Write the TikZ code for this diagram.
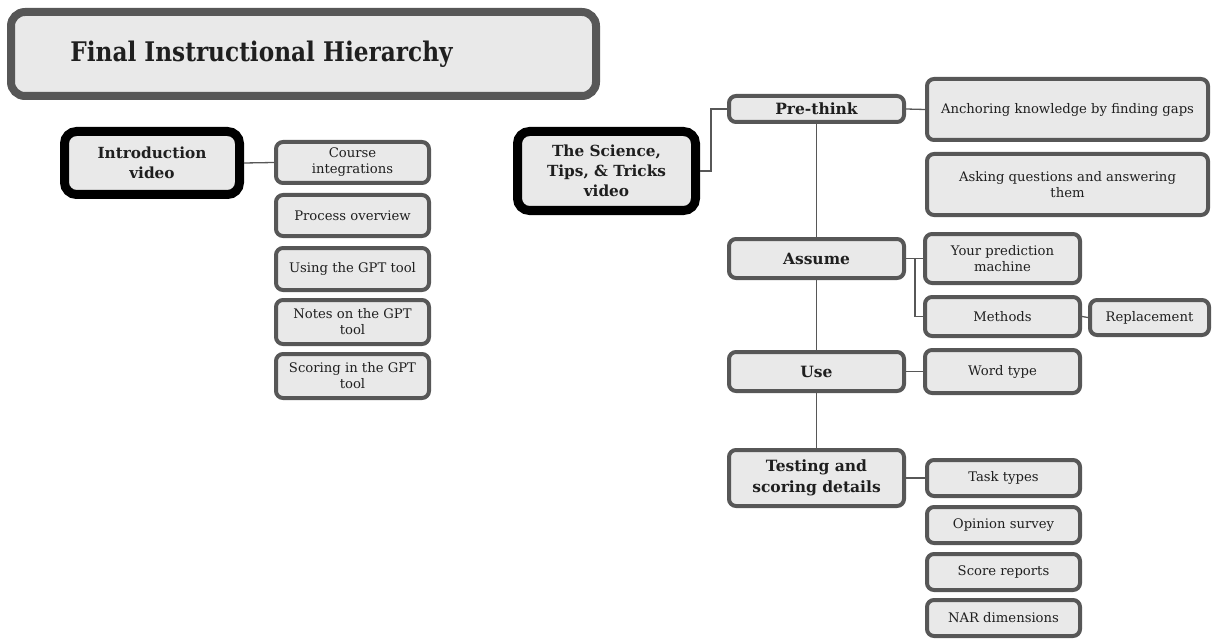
\documentclass[tikz,border=0pt]{standalone}
\usepackage{fontspec}
\setmainfont{DejaVu Serif}
\newfontfamily\titlefont{DejaVu Serif}[FakeStretch=0.86]
\definecolor{boxfill}{HTML}{E9E9E9}
\definecolor{boxline}{HTML}{575757}

\begin{document}
\begin{tikzpicture}[x=1pt,y=-1pt,
  box/.style={draw=boxline,fill=boxfill,line width=4pt,rounded corners=7pt,
    align=center,inner sep=0pt,text=black!88,font=\fontsize{13.2}{16}\selectfont},
  topic/.style={box,font=\bfseries\fontsize{15.5}{21}\selectfont},
  video/.style={box,draw=black,line width=9pt,rounded corners=12pt,
    font=\bfseries\fontsize{15.3}{20}\selectfont},
  link/.style={draw=boxline,line width=1.3pt}]

\useasboundingbox (0,0) rectangle (1212,639);

% Title
\node[box,line width=8pt,rounded corners=14pt,minimum width=585pt,minimum height=84pt] (title) at (303.5,54) {};
\node[text=black!88,font=\titlefont\bfseries\fontsize{27}{30}\selectfont] (titletext) at (261.5,54) {Final Instructional Hierarchy};

% Introduction branch
\node[video,minimum width=175pt,minimum height=63pt] (intro) at (152,163) {Introduction\\video};
\node[box,minimum width=153pt,minimum height=41pt] (course) at (352.5,162.5) {Course\\integrations};
\node[box,minimum width=153pt,minimum height=41pt] (process) at (352.5,215.5) {Process overview};
\node[box,minimum width=153pt,minimum height=42pt] (using) at (352.5,269) {Using the GPT tool};
\node[box,minimum width=153pt,minimum height=44pt] (notes) at (352.5,322) {Notes on the GPT\\tool};
\node[box,minimum width=153pt,minimum height=44pt] (scoring) at (352.5,376) {Scoring in the GPT\\tool};

\draw[link] (intro.east) -- (course.west);

% Science branch
\node[video,minimum width=178pt,minimum height=79pt] (science) at (606.5,171) {The Science,\\Tips, \& Tricks\\video};

\node[topic,minimum width=175pt,minimum height=26pt] (prethink) at (816.5,109) {Pre-think};
\node[topic,minimum width=175pt,minimum height=39pt] (assume) at (816.5,258.5) {Assume};
\node[topic,minimum width=175pt,minimum height=39pt] (use) at (816.5,371.5) {Use};
\node[topic,minimum width=175pt,minimum height=56pt] (testing) at (816.5,478) {Testing and\\scoring details};

\node[box,minimum width=281pt,minimum height=61pt] (anchoring) at (1067.5,109.5) {Anchoring knowledge by finding gaps};
\node[box,minimum width=281pt,minimum height=61pt] (asking) at (1067.5,184.5) {Asking questions and answering\\them};

\node[box,minimum width=155pt,minimum height=49pt] (predict) at (1002.5,258.5) {Your prediction\\machine};
\node[box,minimum width=155pt,minimum height=39pt] (methods) at (1002.5,316.5) {Methods};
\node[box,minimum width=119pt,minimum height=35pt] (replace) at (1149.5,317.5) {Replacement};
\node[box,minimum width=155pt,minimum height=43pt] (wordtype) at (1002.5,371.5) {Word type};

\node[box,minimum width=153pt,minimum height=36pt] (tasks) at (1003.5,478) {Task types};
\node[box,minimum width=153pt,minimum height=36pt] (opinion) at (1003.5,525) {Opinion survey};
\node[box,minimum width=153pt,minimum height=36pt] (reports) at (1003.5,572) {Score reports};
\node[box,minimum width=153pt,minimum height=36pt] (nar) at (1003.5,618) {NAR dimensions};

\draw[link] (science.east) -- ++(11,0) |- (prethink.west);
\draw[link] (prethink.east) -- (anchoring.west);
\draw[link] (prethink.south) -- (assume.north);
\draw[link] (assume.south) -- (use.north);
\draw[link] (use.south) -- (testing.north);
\draw[link] (assume.east) -- (predict.west);
\draw[link] (assume.east) -- ++(9,0) |- (methods.west);
\draw[link] (methods.east) -- (replace.west);
\draw[link] (use.east) -- (wordtype.west);
\draw[link] (testing.east) -- (tasks.west);

\end{tikzpicture}
\end{document}
